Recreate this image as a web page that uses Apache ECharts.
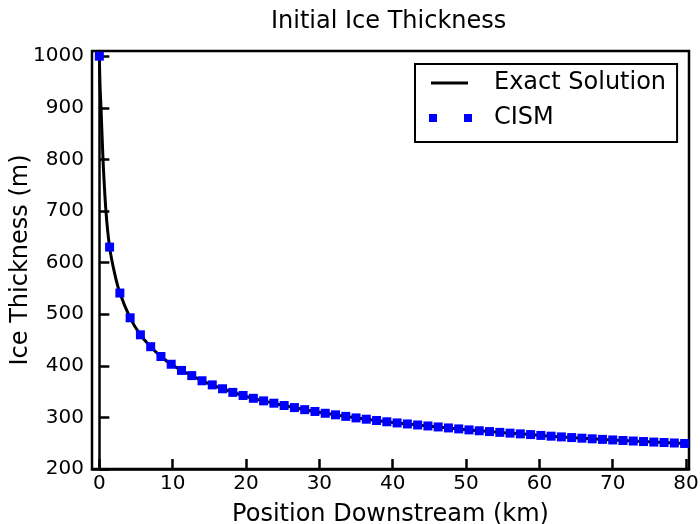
<!DOCTYPE html>
<html>
<head>
<meta charset="utf-8">
<script src="https://cdn.jsdelivr.net/npm/echarts@6/dist/echarts.min.js"></script>
<style>
  html, body { margin: 0; padding: 0; background: #fff; }
  #chart { width: 700px; height: 524px; }
</style>
</head>
<body>
<div id="chart"></div>
<script>
// CISM output, one point every 1.4 km
const xCism = [0, 1.4, 2.8, 4.2, 5.6, 7.0, 8.4, 9.8, 11.2, 12.6,
  14.0, 15.4, 16.8, 18.2, 19.6, 21.0, 22.4, 23.8, 25.2, 26.6,
  28.0, 29.4, 30.8, 32.2, 33.6, 35.0, 36.4, 37.8, 39.2, 40.6,
  42.0, 43.4, 44.8, 46.2, 47.6, 49.0, 50.4, 51.8, 53.2, 54.6,
  56.0, 57.4, 58.8, 60.2, 61.6, 63.0, 64.4, 65.8, 67.2, 68.6,
  70.0, 71.4, 72.8, 74.2, 75.6, 77.0, 78.4, 79.8]
const hCism = [1000, 630, 541, 493, 460, 437, 418, 403, 391, 381,
  371, 363, 355.5, 348.5, 342.5, 337, 332, 327.5, 323, 319,
  315, 311.5, 308, 305, 302, 299, 296.5, 294, 291.5, 289.3,
  287.3, 285.3, 283.4, 281.5, 279.6, 277.7, 275.8, 274.1, 272.5, 271,
  269.5, 268.1, 266.7, 265.1, 263.6, 262.2, 260.9, 259.7, 258.5, 257.4,
  256.3, 255.2, 254.2, 253.2, 252.2, 251.3, 250.4, 249.5]

// exact solution (denser near the inflow)
const xExact = [0, 0.1, 0.23, 0.5, 0.9, 1.4, 2.1, 2.8, 4.2, 5.6, 7.0, 8.4, 9.8,
  11.2, 12.6, 14.0, 16.8, 19.6, 22.4, 25.2, 28.0, 30.8, 33.6, 36.4, 39.2,
  42.0, 44.8, 47.6, 50.4, 53.2, 56.0, 58.8, 61.6, 64.4, 67.2, 70.0,
  72.8, 75.6, 78.4, 80.0]
const hExact = [1000, 940, 900, 800, 700, 630, 578, 541, 493, 460, 437, 418, 403,
  391, 381, 371, 355.5, 342.5, 332, 323, 315, 308, 302, 296.5, 291.5,
  287.3, 283.4, 279.6, 275.8, 272.5, 269.5, 266.7, 263.6, 260.9, 258.5, 256.3,
  254.2, 252.2, 250.4, 249.4]

const xTicks = [0, 10, 20, 30, 40, 50, 60, 70, 80]
const yTicks = [200, 300, 400, 500, 600, 700, 800, 900, 1000]

const zip = (xs, ys) => xs.map((x, i) => [x, ys[i]])

const font = 'DejaVu Sans'
const tickStyle = { show: true, inside: true, length: 10, lineStyle: { color: '#000', width: 2.5 } }

const options = {
  animation: false,
  backgroundColor: '#fff',
  textStyle: { fontFamily: font },
  title: {
    text: 'Initial Ice Thickness',
    left: 271,
    top: 10,
    padding: 0,
    textStyle: { fontFamily: font, fontSize: 24, fontWeight: 'normal', color: '#000' },
  },
  grid: {
    left: 92,
    right: 11,
    top: 51,
    bottom: 55,
    outerBoundsMode: 'none',
    containLabel: false,
    show: true,
    borderColor: '#000',
    borderWidth: 2.5,
  },
  legend: [
    {
      data: [{ name: 'Exact Solution', icon: 'rect' }],
      left: 415,
      top: 64,
      padding: [7, 11, 47, 16],
      itemWidth: 37,
      itemHeight: 3,
      borderColor: '#000',
      borderWidth: 2,
      formatter: '{a|{name}}',
      textStyle: {
        rich: { a: { fontFamily: font, fontSize: 24, color: '#000', lineHeight: 24, padding: [0, 0, 0, 21] } },
      },
    },
    {
      data: [{ name: 'CISM', icon: 'path://M0,0h8v8h-8zM35,0h8v8h-8z' }],
      left: 429,
      top: 106,
      padding: 0,
      itemWidth: 43,
      itemHeight: 8,
      formatter: '{a|{name}}',
      textStyle: {
        rich: { a: { fontFamily: font, fontSize: 24, color: '#000', lineHeight: 24, padding: [0, 0, 0, 17] } },
      },
    },
  ],
  xAxis: {
    type: 'value',
    min: -1,
    max: 80.4,
    name: 'Position Downstream (km)',
    nameLocation: 'middle',
    nameGap: 34,
    nameMoveOverlap: false,
    nameTextStyle: { fontFamily: font, fontSize: 24, color: '#000' },
    axisLine: { show: true, lineStyle: { color: '#000', width: 2.5 } },
    axisTick: Object.assign({ customValues: xTicks }, tickStyle),
    axisLabel: { customValues: xTicks, formatter: v => String(v), fontFamily: font, fontSize: 20, color: '#000', margin: 5 },
    splitLine: { show: false },
  },
  yAxis: {
    type: 'value',
    min: 200,
    max: 1010,
    name: 'Ice Thickness (m)',
    nameLocation: 'middle',
    nameRotate: 90,
    nameGap: 59,
    nameMoveOverlap: false,
    nameTextStyle: { fontFamily: font, fontSize: 24, color: '#000' },
    axisLine: { show: true, lineStyle: { color: '#000', width: 2.5 } },
    axisTick: Object.assign({ customValues: yTicks }, tickStyle),
    axisLabel: { customValues: yTicks, formatter: v => String(v), fontFamily: font, fontSize: 20, color: '#000', margin: 8 },
    splitLine: { show: false },
  },
  series: [
    {
      name: 'Exact Solution',
      type: 'line',
      data: zip(xExact, hExact),
      smooth: 0.3,
      showSymbol: false,
      lineStyle: { color: '#000', width: 3 },
      itemStyle: { color: '#000' },
      z: 2,
    },
    {
      name: 'CISM',
      type: 'scatter',
      data: zip(xCism, hCism),
      symbol: 'rect',
      symbolSize: 9,
      itemStyle: { color: '#0000ff', opacity: 1 },
      z: 3,
    },
  ],
}

const chart = echarts.init(document.getElementById('chart'))
chart.setOption(options)
window.onresize = function () {
  chart.resize()
}
</script>
</body>
</html>
